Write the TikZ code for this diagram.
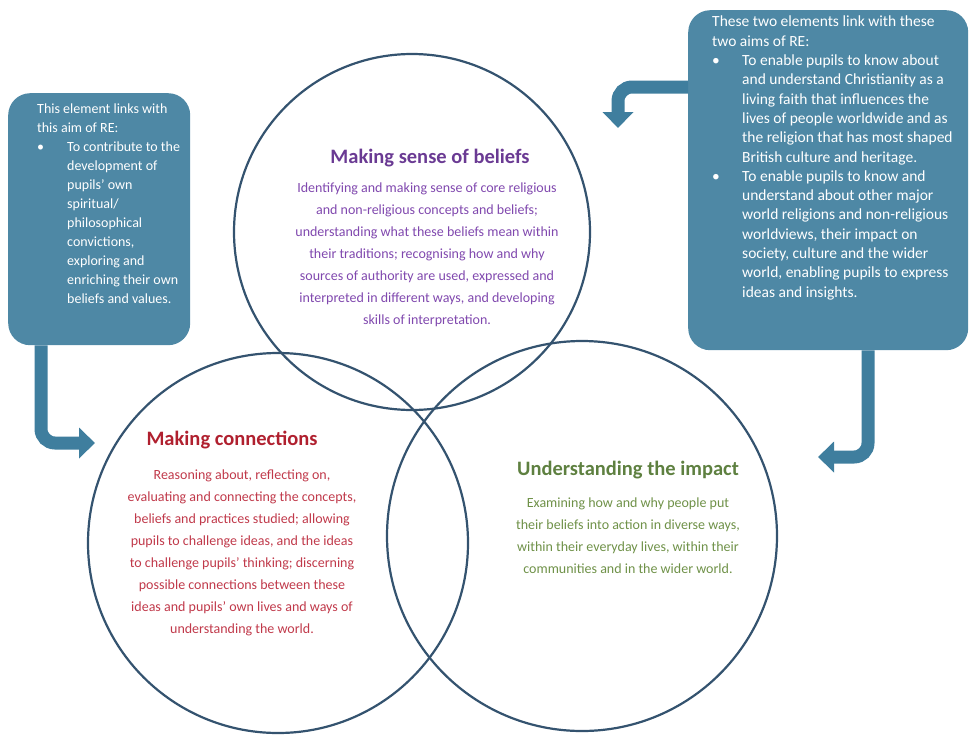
\documentclass[tikz,border=0pt]{standalone}
\usepackage{fontspec}
\setmainfont{Carlito}
\usetikzlibrary{arrows.meta}

\definecolor{boxblue}{HTML}{4E88A5}
\definecolor{arrowblue}{HTML}{3F7E9E}
\definecolor{ringblue}{HTML}{34536F}
\definecolor{beliefpurple}{HTML}{8048AE}
\definecolor{beliefdark}{HTML}{6A3A93}
\definecolor{connred}{HTML}{C0394A}
\definecolor{conndark}{HTML}{B0202F}
\definecolor{impactgreen}{HTML}{6F9148}
\definecolor{impactdark}{HTML}{5E8040}

\tikzset{
  ring/.style={circle, draw=ringblue, line width=2.2pt, inner sep=0pt},
  aimbox/.style={rounded corners=22pt, fill=boxblue, draw=none, anchor=north west},
  aimtext/.style={text=white, align=left, anchor=north west, inner sep=0pt},
  ttl/.style={font=\fontsize{20.5}{24}\selectfont\bfseries},
  body/.style={align=center, anchor=north, inner sep=0pt, font=\fontsize{14}{22}\selectfont},
  link/.style={arrowblue, line width=13pt, rounded corners=14pt, -{Triangle[width=30pt,length=16pt]}}
}

\newcommand{\bul}{\makebox[30pt][l]{\textbullet}}
\newcommand{\ind}{\hspace*{30pt}}

\begin{document}
\begin{tikzpicture}[x=1pt,y=-1pt]

\useasboundingbox (0,0) rectangle (972,737);

\coordinate (tipL) at (95,443) ;
\coordinate (tipR) at (818,457) ;
\coordinate (tipT) at (618,128) ;

% the three rings
\node[ring, minimum size=356pt] (beliefs) at (412,232) {} ;
\node[ring, minimum size=380pt] (connect) at (278,543) {} ;
\node[ring, minimum size=390pt] (impact) at (582,536) {} ;

\node[aimbox, minimum width=182pt, minimum height=252pt] (leftaim) at (8,93) {} ;
\node[aimbox, minimum width=280pt, minimum height=340pt] (rightaim) at (688,10) {} ;

% links to the aims
\draw[link] ([xshift=33pt]leftaim.south west) |- (tipL) ;
\draw[link] ([xshift=180pt]rightaim.south west) |- (tipR) ;
\draw[link] ([yshift=-77pt]rightaim.north west) -| (tipT) ;

\node[aimtext, font=\fontsize{14}{19}\selectfont] (leftaimtxt) at (37,104) {This element links with\\
this aim of RE:\\
\bul To contribute to the\\
\ind development of\\
\ind pupils’ own\\
\ind spiritual/\\
\ind philosophical\\
\ind convictions,\\
\ind exploring and\\
\ind enriching their own\\
\ind beliefs and values.} ;

\node[aimtext, font=\fontsize{15.5}{19.3}\selectfont] (rightaimtxt) at (712,16) {These two elements link with these\\
two aims of RE:\\
\bul To enable pupils to know about\\
\ind and understand Christianity as a\\
\ind living faith that influences the\\
\ind lives of people worldwide and as\\
\ind the religion that has most shaped\\
\ind British culture and heritage.\\
\bul To enable pupils to know and\\
\ind understand about other major\\
\ind world religions and non-religious\\
\ind worldviews, their impact on\\
\ind society, culture and the wider\\
\ind world, enabling pupils to express\\
\ind ideas and insights.} ;

% beliefs
\node[ttl, text=beliefdark] (beliefsttl) at (430,158) {Making sense of beliefs} ;
\node[body, text=beliefpurple] (beliefsbody) at (427,183) {Identifying and making sense of core religious\\
and non-religious concepts and beliefs;\\
understanding what these beliefs mean within\\
their traditions; recognising how and why\\
sources of authority are used, expressed and\\
interpreted in different ways, and developing\\
skills of interpretation.} ;

% connections
\node[ttl, text=conndark] (connectttl) at (232,440) {Making connections} ;
\node[body, text=connred] (connectbody) at (242,470) {Reasoning about, reflecting on,\\
evaluating and connecting the concepts,\\
beliefs and practices studied; allowing\\
pupils to challenge ideas, and the ideas\\
to challenge pupils’ thinking; discerning\\
possible connections between these\\
ideas and pupils’ own lives and ways of\\
understanding the world.} ;

% impact
\node[ttl, text=impactdark] (impactttl) at (628,470) {Understanding the impact} ;
\node[body, text=impactgreen] (impactbody) at (628,498) {Examining how and why people put\\
their beliefs into action in diverse ways,\\
within their everyday lives, within their\\
communities and in the wider world.} ;

\end{tikzpicture}
\end{document}
